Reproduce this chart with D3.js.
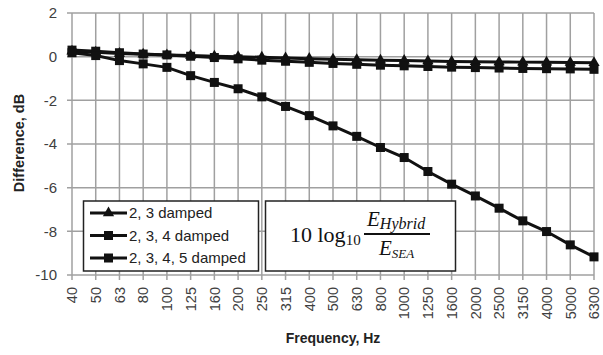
<!DOCTYPE html>
<html>
<head>
<meta charset="utf-8">
<script src="https://cdn.jsdelivr.net/npm/d3@7"></script>
<style>
  body { margin: 0; background: #fff; }
  svg text { font-family: "Liberation Sans", Arial, sans-serif; }
</style>
</head>
<body>
<div id="chart"></div>
<script>
var width = 603,
  height = 355;

var freqs = ["40", "50", "63", "80", "100", "125", "160", "200", "250", "315", "400",
  "500", "630", "800", "1000", "1250", "1600", "2000", "2500", "3150", "4000", "5000", "6300"];

var damped23 = [0.25, 0.2, 0.15, 0.11, 0.08, 0.05, 0.02, 0.0, -0.03, -0.06, -0.09, -0.12,
  -0.14, -0.16, -0.18, -0.2, -0.22, -0.23, -0.24, -0.25, -0.26, -0.27, -0.28];

var damped234 = [0.3, 0.25, 0.18, 0.12, 0.08, 0.02, -0.04, -0.1, -0.16, -0.21, -0.26, -0.31,
  -0.35, -0.39, -0.42, -0.45, -0.48, -0.5, -0.52, -0.54, -0.55, -0.56, -0.58];

var damped2345 = [0.18, 0.05, -0.18, -0.33, -0.49, -0.87, -1.18, -1.47, -1.84, -2.28, -2.7, -3.17,
  -3.65, -4.16, -4.62, -5.26, -5.84, -6.38, -6.94, -7.52, -8.01, -8.62, -9.17];

var seriesNames = ["2, 3 damped", "2, 3, 4 damped", "2, 3, 4, 5 damped"];
var yTicks = [2, 0, -2, -4, -6, -8, -10];

var series = [
  { name: seriesNames[0], values: damped23, marker: "triangle" },
  { name: seriesNames[1], values: damped234, marker: "square" },
  { name: seriesNames[2], values: damped2345, marker: "square" }
];

var x = d3.scalePoint()
  .domain(freqs)
  .range([72, 594]);

var y = d3.scaleLinear()
  .domain([-10, 2])
  .range([275, 13]);

var svg = d3.select("#chart").append("svg")
  .attr("width", width)
  .attr("height", height);

// grid
svg.append("g")
  .selectAll("line")
  .data(yTicks)
  .enter()
  .append("line")
  .attr("x1", 67)
  .attr("x2", x("6300"))
  .attr("y1", function (d) { return y(d); })
  .attr("y2", function (d) { return y(d); })
  .attr("stroke", "#a0a0a0")
  .attr("stroke-width", 1.5);

svg.append("g")
  .selectAll("line")
  .data(freqs)
  .enter()
  .append("line")
  .attr("x1", function (d) { return x(d); })
  .attr("x2", function (d) { return x(d); })
  .attr("y1", y(2))
  .attr("y2", y(-10) + 5)
  .attr("stroke", "#a0a0a0")
  .attr("stroke-width", 1.5);

// y tick labels
svg.append("g")
  .selectAll("text")
  .data(yTicks)
  .enter()
  .append("text")
  .attr("x", 57)
  .attr("y", function (d) { return y(d); })
  .attr("dy", "0.36em")
  .attr("text-anchor", "end")
  .attr("font-size", 15)
  .attr("fill", "#404040")
  .text(function (d) { return d; });

// x tick labels
svg.append("g")
  .selectAll("text")
  .data(freqs)
  .enter()
  .append("text")
  .attr("transform", function (d) { return "translate(" + x(d) + ",287) rotate(-90)"; })
  .attr("dy", "0.36em")
  .attr("text-anchor", "end")
  .attr("font-size", 14.5)
  .attr("fill", "#404040")
  .text(function (d) { return d; });

// axis titles
svg.append("text")
  .attr("x", 333)
  .attr("y", 343)
  .attr("text-anchor", "middle")
  .attr("font-size", 14)
  .attr("font-weight", "bold")
  .attr("fill", "#222")
  .text("Frequency, Hz");

svg.append("text")
  .attr("transform", "translate(24,143) rotate(-90)")
  .attr("text-anchor", "middle")
  .attr("font-size", 14.5)
  .attr("font-weight", "bold")
  .attr("fill", "#222")
  .text("Difference, dB");

function drawMarker(g, type, cx, cy) {
  if (type == "triangle") {
    g.append("path")
      .attr("d", d3.symbol().type(d3.symbolTriangle).size(55)())
      .attr("transform", "translate(" + cx + "," + cy + ")")
      .attr("fill", "#111");
  } else {
    g.append("rect")
      .attr("x", cx - 4.5)
      .attr("y", cy - 4.5)
      .attr("width", 9)
      .attr("height", 9)
      .attr("fill", "#111");
  }
}

var line = d3.line()
  .x(function (d, i) { return x(freqs[i]); })
  .y(function (d) { return y(d); });

series.forEach(function (s) {
  var g = svg.append("g");
  g.append("path")
    .attr("d", line(s.values))
    .attr("fill", "none")
    .attr("stroke", "#111")
    .attr("stroke-width", 3);
  s.values.forEach(function (v, i) {
    drawMarker(g, s.marker, x(freqs[i]), y(v));
  });
});

// legend
var legend = svg.append("g");
legend.append("rect")
  .attr("x", 83.5)
  .attr("y", 201)
  .attr("width", 175)
  .attr("height", 70)
  .attr("fill", "#fff")
  .attr("stroke", "#222")
  .attr("stroke-width", 1.5);

series.forEach(function (s, i) {
  var ly = 213 + i * 22.5;
  legend.append("line")
    .attr("x1", 90)
    .attr("x2", 127)
    .attr("y1", ly)
    .attr("y2", ly)
    .attr("stroke", "#111")
    .attr("stroke-width", 3);
  drawMarker(legend, s.marker, 108.5, ly);
  legend.append("text")
    .attr("x", 129)
    .attr("y", ly)
    .attr("dy", "0.36em")
    .attr("font-family", "Open Sans")
    .attr("font-size", 15)
    .attr("fill", "#222")
    .text(s.name);
});

// formula box
var fbox = svg.append("g").attr("font-family", "Liberation Serif").attr("fill", "#111");
fbox.append("rect")
  .attr("x", 265.5)
  .attr("y", 201)
  .attr("width", 190)
  .attr("height", 70)
  .attr("fill", "#fff")
  .attr("stroke", "#222")
  .attr("stroke-width", 1.5);

var t1 = fbox.append("text")
  .attr("x", 290)
  .attr("y", 242)
  .style("font-family", "Liberation Serif")
  .attr("font-size", 22);
t1.append("tspan").text("10 log");
t1.append("tspan").attr("font-size", 15).attr("dy", 3).text("10");

fbox.append("line")
  .attr("x1", 364)
  .attr("x2", 430)
  .attr("y1", 234)
  .attr("y2", 234)
  .attr("stroke", "#111")
  .attr("stroke-width", 2);

var num = fbox.append("text")
  .attr("x", 367)
  .attr("y", 226)
  .style("font-family", "Liberation Serif")
  .attr("font-style", "italic")
  .attr("font-size", 21);
num.append("tspan").text("E");
num.append("tspan").attr("font-size", 16).attr("dy", 3).text("Hybrid");

var den = fbox.append("text")
  .attr("x", 379)
  .attr("y", 255)
  .style("font-family", "Liberation Serif")
  .attr("font-style", "italic")
  .attr("font-size", 21);
den.append("tspan").text("E");
den.append("tspan").attr("font-size", 13).attr("dy", 3).text("SEA");
</script>
</body>
</html>
